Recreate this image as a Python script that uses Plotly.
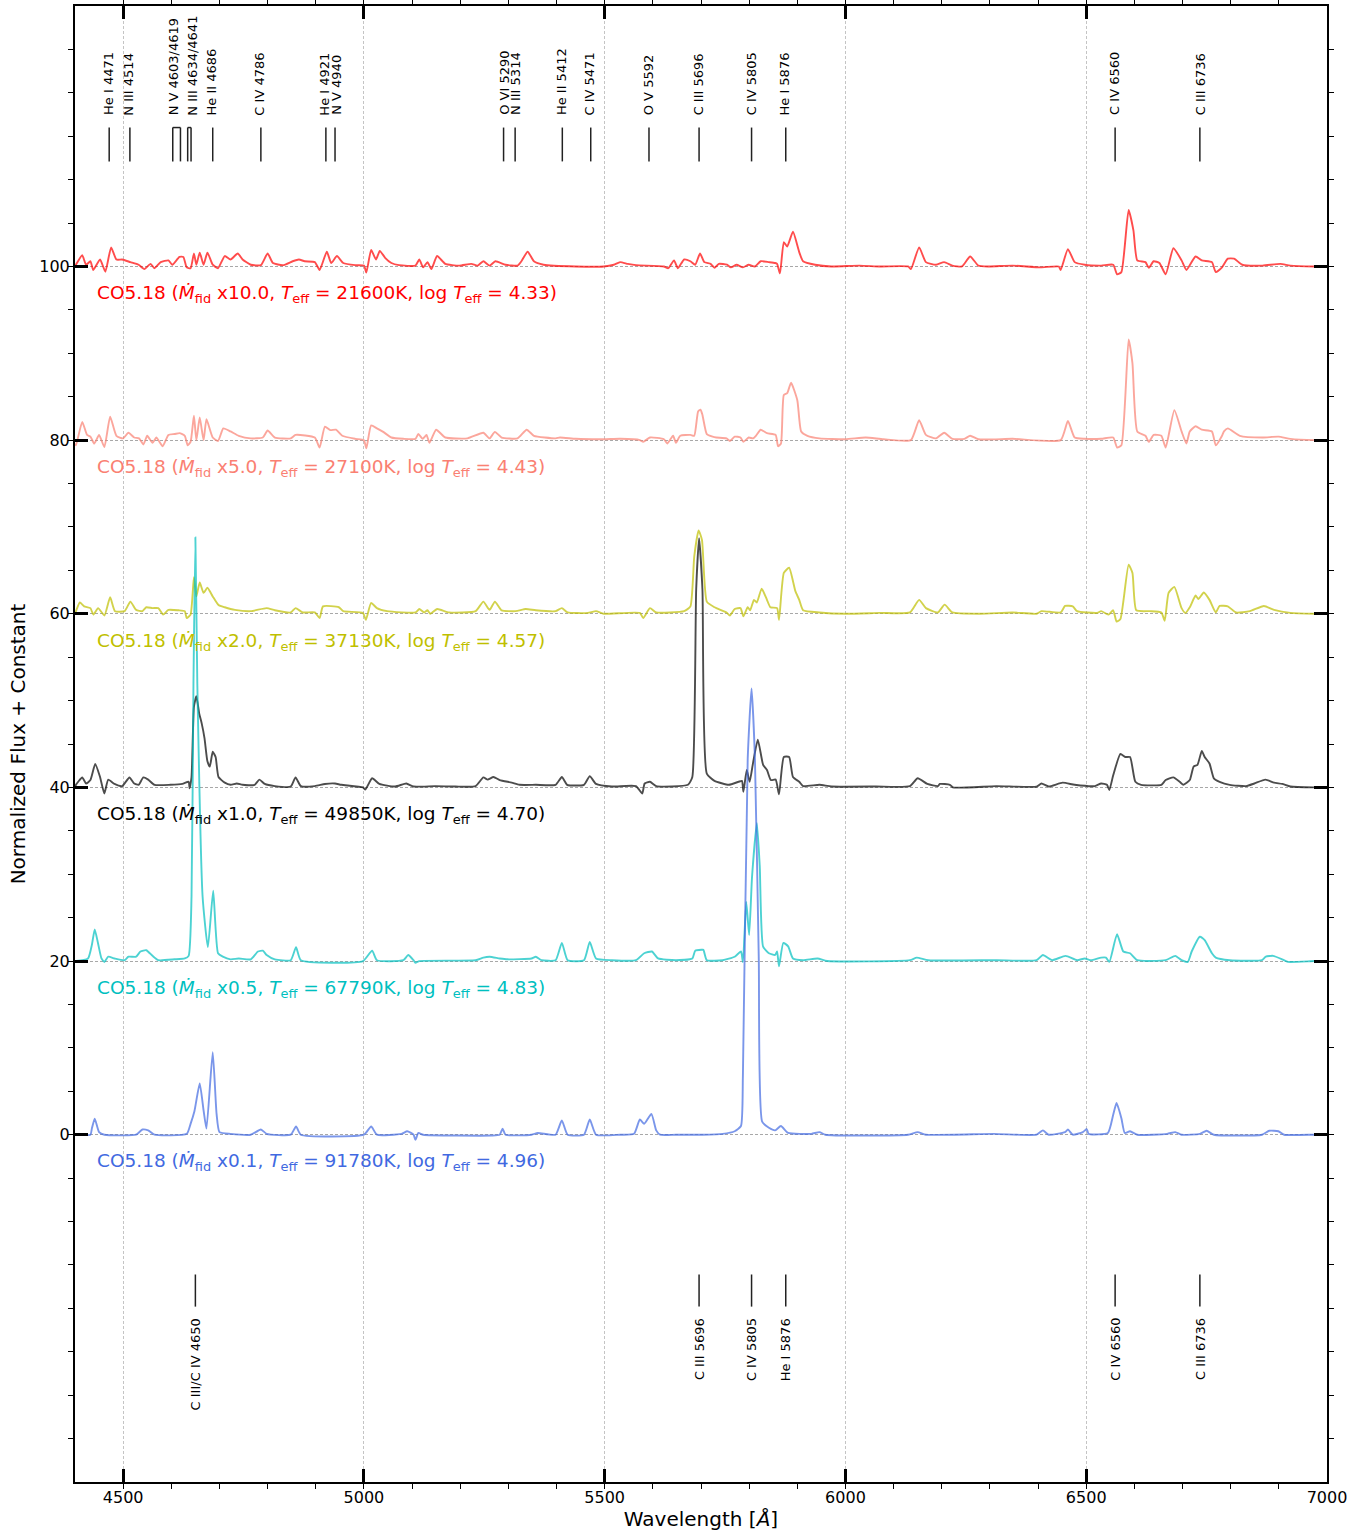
import plotly.graph_objects as go

# ---------------- data (wavelength [Å], normalized flux + constant) ----------------
offsets = [100, 80, 60, 40, 20, 0]
labels = [
    "CO5.18 (<i>Ṁ</i><sub>fid</sub> x10.0, <i>T</i><sub>eff</sub> = 21600K, log <i>T</i><sub>eff</sub> = 4.33)",
    "CO5.18 (<i>Ṁ</i><sub>fid</sub> x5.0, <i>T</i><sub>eff</sub> = 27100K, log <i>T</i><sub>eff</sub> = 4.43)",
    "CO5.18 (<i>Ṁ</i><sub>fid</sub> x2.0, <i>T</i><sub>eff</sub> = 37130K, log <i>T</i><sub>eff</sub> = 4.57)",
    "CO5.18 (<i>Ṁ</i><sub>fid</sub> x1.0, <i>T</i><sub>eff</sub> = 49850K, log <i>T</i><sub>eff</sub> = 4.70)",
    "CO5.18 (<i>Ṁ</i><sub>fid</sub> x0.5, <i>T</i><sub>eff</sub> = 67790K, log <i>T</i><sub>eff</sub> = 4.83)",
    "CO5.18 (<i>Ṁ</i><sub>fid</sub> x0.1, <i>T</i><sub>eff</sub> = 91780K, log <i>T</i><sub>eff</sub> = 4.96)",
]
line_colors = ["rgba(255,0,0,0.7)", "rgba(250,128,114,0.7)", "rgba(191,191,0,0.7)",
               "rgba(0,0,0,0.7)", "rgba(0,191,191,0.7)", "rgba(65,105,225,0.7)"]
text_colors = ["#ff0000", "#fa8072", "#bfbf00", "#000000", "#00bfbf", "#4169e1"]

spec_red = [
    (4400, 100.0), (4402, 100.2), (4415, 101.3), (4423, 100.2), (4432, 100.6), (4438, 99.6), (4452, 100.8),
    (4463, 99.4), (4475, 102.2), (4486, 100.8), (4498, 100.8), (4515, 100.5), (4532, 100.2), (4544, 99.7),
    (4557, 100.3), (4565, 99.8), (4578, 100.5), (4594, 100.7), (4602, 100.2), (4617, 101.1), (4625, 101.1),
    (4632, 99.9), (4640, 99.8), (4647, 101.5), (4652, 100.2), (4659, 101.6), (4667, 100.2), (4675, 101.6),
    (4686, 100.2), (4697, 99.8), (4711, 101.2), (4723, 100.8), (4738, 101.5), (4748, 100.8), (4765, 100.2),
    (4786, 100.15), (4800, 101.5), (4811, 100.4), (4832, 100.15), (4852, 100.6), (4865, 100.8), (4877, 100.6),
    (4898, 100.5), (4908, 99.6), (4923, 101.7), (4932, 100.4), (4944, 101.2), (4957, 100.4), (4982, 100.15),
    (5000, 100.1), (5005, 99.3), (5015, 101.9), (5025, 100.8), (5033, 101.8), (5044, 101.0), (5057, 100.4),
    (5073, 100.15), (5107, 100.1), (5115, 100.8), (5123, 99.9), (5132, 100.5), (5140, 99.7), (5152, 101.2),
    (5169, 100.3), (5198, 100.1), (5223, 100.3), (5236, 100.1), (5248, 100.6), (5261, 100.1), (5273, 100.6),
    (5294, 100.2), (5319, 100.1), (5327, 100.6), (5340, 101.7), (5353, 100.6), (5373, 100.2), (5440, 100.0),
    (5498, 100.0), (5519, 100.2), (5532, 100.5), (5548, 100.3), (5565, 100.15), (5623, 100.0), (5632, 99.8),
    (5644, 100.7), (5652, 99.8), (5665, 100.8), (5678, 100.6), (5688, 100.2), (5698, 101.5), (5707, 100.5),
    (5720, 100.3), (5728, 99.85), (5737, 100.3), (5754, 100.2), (5762, 99.9), (5774, 100.2), (5787, 99.9),
    (5799, 100.2), (5812, 100.0), (5824, 100.6), (5841, 100.5), (5854, 100.4), (5858, 100.3), (5864, 99.2),
    (5872, 102.8), (5879, 102.3), (5891, 104.0), (5904, 101.65), (5912, 100.6), (5937, 100.2), (5971, 100.0),
    (6029, 100.1), (6071, 100.0), (6130, 100.0), (6136, 99.7), (6153, 102.2), (6167, 100.5), (6188, 100.2),
    (6205, 100.5), (6222, 100.1), (6242, 100.0), (6259, 101.15), (6276, 100.1), (6297, 100.0), (6347, 100.1),
    (6405, 99.9), (6443, 100.0), (6447, 99.6), (6462, 102.0), (6476, 100.5), (6497, 100.2), (6531, 100.1),
    (6556, 100.2), (6564, 99.1), (6573, 99.35), (6588, 106.5), (6598, 104.15), (6606, 100.7), (6623, 100.5),
    (6630, 99.85), (6640, 100.6), (6652, 100.4), (6665, 99.1), (6681, 102.1), (6698, 100.7), (6708, 99.6),
    (6727, 101.15), (6740, 100.7), (6761, 100.5), (6769, 99.35), (6782, 99.9), (6794, 100.9), (6807, 100.9),
    (6824, 100.2), (6866, 100.1), (6903, 100.3), (6924, 100.1), (6974, 100.0), (7000, 100.0),
]

spec_salmon = [
    (4400, 79.6), (4402, 79.4), (4415, 82.1), (4425, 80.6), (4432, 80.4), (4440, 79.6), (4450, 80.6),
    (4461, 79.2), (4473, 82.7), (4486, 80.5), (4500, 80.2), (4511, 80.85), (4523, 80.3), (4533, 80.2),
    (4542, 79.5), (4550, 80.5), (4561, 79.7), (4569, 80.3), (4582, 79.3), (4594, 80.6), (4607, 80.7),
    (4617, 80.8), (4628, 80.5), (4634, 79.4), (4640, 79.8), (4647, 82.8), (4652, 80.0), (4659, 82.6),
    (4667, 80.0), (4673, 82.4), (4686, 80.3), (4697, 79.9), (4708, 81.35), (4723, 81.0), (4740, 80.5),
    (4765, 80.2), (4790, 80.3), (4800, 81.1), (4815, 80.3), (4848, 80.2), (4858, 80.6), (4898, 80.3),
    (4908, 79.15), (4919, 81.55), (4930, 81.15), (4942, 81.2), (4955, 80.5), (4982, 80.15), (5000, 80.0),
    (5005, 79.05), (5015, 81.7), (5027, 81.35), (5040, 80.95), (5057, 80.3), (5082, 80.15), (5107, 80.15),
    (5113, 80.7), (5122, 80.15), (5130, 80.6), (5136, 79.7), (5150, 81.2), (5169, 80.3), (5215, 80.2),
    (5248, 80.85), (5261, 80.2), (5272, 80.95), (5286, 80.3), (5319, 80.2), (5338, 81.2), (5353, 80.5),
    (5398, 80.2), (5407, 80.3), (5440, 80.15), (5498, 80.1), (5532, 80.15), (5573, 80.0), (5580, 79.8),
    (5594, 80.3), (5623, 80.1), (5630, 79.6), (5642, 80.5), (5648, 79.7), (5657, 80.5), (5678, 80.6),
    (5686, 80.5), (5694, 83.3), (5699, 83.5), (5703, 82.9), (5712, 80.7), (5724, 80.4), (5732, 80.3),
    (5753, 80.2), (5760, 79.9), (5770, 80.4), (5782, 80.3), (5788, 79.8), (5799, 80.3), (5808, 80.2),
    (5814, 80.5), (5824, 81.2), (5837, 80.8), (5855, 80.6), (5860, 79.3), (5866, 79.6), (5872, 85.2),
    (5879, 85.4), (5887, 86.6), (5900, 84.6), (5908, 81.0), (5921, 80.5), (5946, 80.2), (6000, 80.1),
    (6042, 80.3), (6079, 80.1), (6136, 80.0), (6153, 82.3), (6167, 80.6), (6188, 80.2), (6205, 80.85),
    (6222, 80.15), (6247, 80.15), (6259, 80.5), (6276, 80.1), (6347, 80.15), (6447, 80.0), (6462, 82.2),
    (6476, 80.3), (6497, 80.15), (6531, 80.15), (6556, 80.3), (6564, 79.15), (6573, 79.4), (6588, 91.6),
    (6596, 88.85), (6606, 81.0), (6623, 80.5), (6630, 79.8), (6640, 80.6), (6656, 80.5), (6665, 79.15),
    (6683, 83.45), (6698, 81.0), (6708, 79.6), (6715, 81.0), (6727, 81.6), (6740, 81.2), (6761, 81.0),
    (6769, 79.4), (6782, 80.5), (6786, 81.0), (6794, 81.35), (6819, 80.5), (6866, 80.3), (6899, 80.4),
    (6924, 80.15), (6974, 80.0), (7000, 80.0),
]

spec_yellow = [
    (4400, 60.0), (4402, 60.3), (4410, 61.3), (4419, 60.85), (4432, 60.65), (4438, 59.9), (4448, 60.65),
    (4461, 59.8), (4473, 61.9), (4483, 60.3), (4503, 60.3), (4515, 61.4), (4527, 60.45), (4540, 60.3),
    (4548, 60.75), (4561, 60.65), (4573, 60.65), (4583, 59.9), (4594, 60.45), (4615, 60.4), (4628, 60.3),
    (4632, 59.5), (4640, 59.9), (4647, 64.2), (4652, 62.0), (4659, 63.6), (4667, 62.4), (4675, 63.0),
    (4686, 62.0), (4698, 61.0), (4711, 60.75), (4732, 60.45), (4765, 60.3), (4798, 60.65), (4815, 60.4),
    (4848, 60.15), (4858, 60.65), (4873, 60.15), (4898, 60.15), (4908, 59.5), (4915, 60.85), (4948, 60.75),
    (4957, 60.3), (4998, 60.1), (5004, 59.3), (5015, 61.25), (5027, 60.65), (5048, 60.3), (5107, 60.15),
    (5115, 60.55), (5125, 60.15), (5132, 60.4), (5138, 60.0), (5152, 60.55), (5177, 60.15), (5232, 60.3),
    (5248, 61.4), (5261, 60.45), (5272, 61.4), (5286, 60.4), (5315, 60.3), (5336, 60.55), (5357, 60.4),
    (5398, 60.3), (5411, 60.65), (5423, 60.15), (5465, 60.1), (5482, 60.3), (5498, 60.0), (5573, 60.1),
    (5580, 59.5), (5594, 60.65), (5607, 60.15), (5665, 60.3), (5678, 60.85), (5686, 66.6), (5695, 69.6),
    (5702, 68.5), (5712, 61.4), (5728, 60.75), (5753, 60.15), (5760, 59.8), (5770, 60.55), (5782, 60.65),
    (5788, 59.7), (5797, 60.75), (5802, 60.4), (5810, 61.6), (5816, 61.3), (5826, 62.9), (5837, 61.6),
    (5844, 60.75), (5858, 60.65), (5862, 59.3), (5872, 64.7), (5883, 65.3), (5896, 62.6), (5904, 61.6),
    (5912, 60.4), (5946, 60.15), (6000, 60.0), (6071, 60.1), (6134, 60.15), (6153, 61.6), (6167, 60.65),
    (6192, 60.15), (6206, 61.05), (6222, 60.15), (6280, 60.0), (6347, 60.15), (6397, 60.0), (6407, 60.3),
    (6447, 60.15), (6456, 60.9), (6472, 60.85), (6481, 60.3), (6523, 60.1), (6531, 60.3), (6546, 59.9),
    (6556, 60.4), (6563, 59.1), (6571, 59.4), (6588, 65.65), (6596, 64.7), (6604, 60.4), (6631, 60.3),
    (6656, 60.15), (6663, 59.2), (6671, 62.4), (6683, 63.1), (6698, 60.65), (6706, 60.1), (6716, 60.85),
    (6727, 62.1), (6733, 61.7), (6744, 62.45), (6756, 61.6), (6769, 60.15), (6777, 60.9), (6794, 60.85),
    (6811, 60.15), (6840, 60.3), (6869, 60.9), (6890, 60.45), (6924, 60.1), (6974, 60.0), (7000, 60.0),
]

spec_black = [
    (4400, 40.0), (4402, 40.3), (4415, 41.15), (4423, 40.45), (4432, 40.85), (4442, 42.7), (4452, 41.2),
    (4461, 39.3), (4469, 40.9), (4482, 40.4), (4498, 40.15), (4513, 41.15), (4523, 40.45), (4532, 40.3),
    (4542, 41.15), (4552, 40.9), (4565, 40.3), (4598, 40.3), (4623, 40.4), (4636, 40.65), (4638, 39.9),
    (4642, 41.2), (4647, 49.3), (4652, 50.5), (4658, 48.5), (4663, 47.4), (4669, 45.65), (4675, 43.0),
    (4680, 42.4), (4686, 44.1), (4692, 43.5), (4698, 41.2), (4711, 40.55), (4723, 40.3), (4736, 40.45),
    (4748, 40.3), (4773, 40.3), (4783, 40.9), (4794, 40.4), (4815, 40.15), (4848, 40.1), (4858, 41.15),
    (4869, 40.15), (4898, 40.15), (4919, 40.4), (4940, 40.45), (4953, 40.3), (4998, 40.0), (5003, 39.75),
    (5017, 41.05), (5032, 40.4), (5065, 40.1), (5088, 40.45), (5103, 40.1), (5148, 40.15), (5190, 40.1),
    (5232, 40.15), (5248, 41.15), (5257, 40.9), (5269, 41.2), (5282, 40.85), (5307, 40.55), (5323, 40.3),
    (5357, 40.3), (5398, 40.3), (5411, 41.2), (5422, 40.3), (5457, 40.3), (5469, 41.3), (5482, 40.4),
    (5515, 40.1), (5565, 40.15), (5578, 39.3), (5583, 40.45), (5594, 40.65), (5607, 40.15), (5673, 40.3),
    (5682, 41.2), (5690, 62.8), (5696, 68.7), (5703, 62.8), (5712, 41.6), (5728, 40.75), (5758, 40.3),
    (5778, 40.65), (5785, 40.75), (5788, 39.5), (5795, 42.0), (5801, 40.65), (5808, 42.8), (5818, 45.5),
    (5829, 42.6), (5837, 42.0), (5845, 40.85), (5855, 40.9), (5862, 39.2), (5872, 43.5), (5883, 43.5),
    (5891, 41.2), (5904, 40.65), (5912, 40.15), (5946, 40.3), (5971, 40.1), (6063, 40.1), (6134, 40.15),
    (6150, 41.05), (6170, 40.4), (6192, 40.15), (6196, 40.4), (6217, 40.3), (6223, 40.0), (6313, 40.15),
    (6397, 40.1), (6407, 40.45), (6422, 40.1), (6451, 40.55), (6476, 40.3), (6518, 40.15), (6531, 40.45),
    (6543, 40.3), (6548, 39.7), (6556, 41.4), (6571, 43.85), (6581, 43.5), (6591, 43.5), (6602, 40.65),
    (6614, 40.3), (6656, 40.3), (6665, 40.85), (6681, 41.15), (6694, 40.65), (6702, 40.3), (6715, 40.85),
    (6723, 42.4), (6731, 42.6), (6740, 44.2), (6746, 43.5), (6756, 42.75), (6765, 41.05), (6777, 40.65),
    (6798, 40.3), (6832, 40.15), (6849, 40.45), (6872, 40.9), (6890, 40.55), (6907, 40.4), (6924, 40.1),
    (6974, 40.0), (7000, 40.0),
]

spec_cyan = [
    (4400, 20.0), (4402, 20.0), (4427, 20.3), (4435, 21.85), (4441, 23.65), (4448, 22.0), (4455, 20.3),
    (4461, 19.9), (4469, 20.5), (4482, 20.3), (4503, 20.1), (4511, 20.5), (4527, 20.5), (4536, 21.1),
    (4548, 21.25), (4561, 20.6), (4573, 20.1), (4607, 20.2), (4628, 20.3), (4636, 20.6), (4642, 27.4),
    (4646, 52.0), (4650, 68.8), (4654, 52.0), (4665, 27.4), (4676, 21.6), (4687, 28.1), (4697, 20.9),
    (4707, 20.5), (4723, 20.2), (4740, 20.3), (4765, 20.2), (4780, 21.1), (4790, 21.2), (4798, 20.7),
    (4815, 20.2), (4848, 20.1), (4859, 21.6), (4869, 20.1), (4998, 20.0), (5017, 21.2), (5027, 20.1),
    (5082, 20.1), (5092, 20.7), (5103, 20.1), (5107, 19.8), (5115, 20.0), (5232, 20.1), (5248, 20.4),
    (5261, 20.5), (5282, 20.3), (5298, 20.2), (5348, 20.3), (5357, 20.5), (5369, 20.1), (5398, 20.1),
    (5411, 22.1), (5423, 20.1), (5457, 20.1), (5469, 22.2), (5482, 20.3), (5515, 20.1), (5565, 20.1),
    (5582, 20.9), (5598, 21.1), (5611, 20.3), (5648, 20.1), (5682, 20.3), (5688, 21.2), (5702, 21.3),
    (5705, 21.3), (5712, 20.1), (5745, 20.1), (5770, 20.5), (5783, 21.1), (5787, 19.9), (5794, 26.8),
    (5800, 23.0), (5806, 29.7), (5816, 35.9), (5822, 30.9), (5829, 21.65), (5841, 20.9), (5854, 20.7),
    (5858, 21.1), (5862, 19.4), (5871, 22.1), (5881, 21.7), (5891, 20.3), (5912, 20.1), (5942, 20.3),
    (5962, 20.0), (6134, 20.1), (6148, 20.4), (6172, 20.1), (6313, 20.1), (6397, 20.1), (6410, 20.7),
    (6429, 20.1), (6457, 20.6), (6481, 20.1), (6497, 20.3), (6510, 20.1), (6531, 20.4), (6541, 20.4),
    (6548, 19.9), (6564, 23.1), (6577, 21.1), (6591, 20.9), (6606, 20.1), (6665, 20.1), (6685, 20.6),
    (6698, 20.1), (6711, 19.9), (6719, 21.1), (6736, 22.8), (6746, 22.4), (6761, 20.9), (6769, 20.4),
    (6798, 20.1), (6865, 20.1), (6873, 20.5), (6888, 20.6), (6907, 20.2), (6919, 19.9), (6974, 20.0),
    (7000, 20.0),
]

spec_blue = [
    (4400, 0.0), (4432, 0.0), (4435, 0.7), (4441, 1.85), (4450, 0.3), (4461, 0.0), (4527, 0.0),
    (4540, 0.6), (4552, 0.5), (4565, 0.0), (4632, 0.1), (4640, 1.25), (4648, 2.7), (4659, 5.9),
    (4667, 2.8), (4673, 0.7), (4686, 9.5), (4694, 2.4), (4700, 0.3), (4723, 0.1), (4765, 0.0),
    (4786, 0.6), (4798, 0.1), (4848, 0.0), (4859, 0.95), (4869, 0.0), (5000, 0.0), (5015, 0.95),
    (5027, 0.0), (5078, 0.1), (5090, 0.4), (5103, 0.0), (5107, -0.6), (5113, 0.2), (5123, 0.0),
    (5265, -0.1), (5282, 0.0), (5288, 0.7), (5294, 0.0), (5348, 0.0), (5361, 0.2), (5398, 0.0),
    (5411, 1.65), (5423, 0.0), (5457, 0.0), (5469, 1.75), (5482, 0.0), (5532, 0.0), (5561, 0.1),
    (5573, 1.75), (5582, 1.25), (5597, 2.4), (5607, 0.5), (5615, 0.0), (5648, 0.0), (5702, 0.0),
    (5745, 0.1), (5770, 0.4), (5783, 1.0), (5787, 6.7), (5797, 43.3), (5805, 51.4), (5812, 43.3),
    (5820, 20.2), (5827, 1.5), (5841, 0.8), (5854, 0.5), (5866, 1.0), (5881, 0.2), (5929, 0.1),
    (5946, 0.3), (5958, 0.0), (6130, 0.0), (6150, 0.3), (6167, 0.0), (6309, 0.1), (6397, 0.0),
    (6410, 0.5), (6422, 0.0), (6456, 0.3), (6462, 0.6), (6472, 0.0), (6493, 0.3), (6501, 0.65),
    (6505, 0.1), (6545, 0.2), (6556, 2.3), (6563, 3.65), (6573, 1.9), (6580, 0.2), (6591, 0.4),
    (6606, 0.0), (6668, 0.1), (6685, 0.3), (6698, 0.0), (6736, 0.1), (6750, 0.45), (6765, 0.0),
    (6865, 0.0), (6880, 0.45), (6899, 0.4), (6911, 0.0), (6974, 0.0), (7000, 0.0),
]

spectra = [spec_red, spec_salmon, spec_yellow, spec_black, spec_cyan, spec_blue]

# line identifications
top_line_names = ["He I 4471", "N III 4514", "N V 4603/4619", "N III 4634/4641", "He II 4686",
                  "C IV 4786", "He I 4921", "N V 4940", "O VI 5290", "N III 5314", "He II 5412",
                  "C IV 5471", "O V 5592", "C III 5696", "C IV 5805", "He I 5876", "C IV 6560",
                  "C III 6736"]
top_line_waves = [[4471], [4514], [4603, 4619], [4634, 4641], [4686], [4786], [4921], [4940],
                  [5290], [5314], [5412], [5471], [5592], [5696], [5805], [5876], [6560], [6736]]
bottom_line_names = ["C III/C IV 4650", "C III 5696", "C IV 5805", "He I 5876", "C IV 6560", "C III 6736"]
bottom_line_waves = [4650, 5696, 5805, 5876, 6560, 6736]

x_range = [4400, 7000]
y_range = [-40, 130]
y_ticks = [0, 20, 40, 60, 80, 100]
label_x = 4442

# small pixel nudges of the top label texts (style only)
top_text_shift = [0, -1, -3, 3, -1, -1, -1, 1.5, 1, 1, -1, -1, -1, -1, 0, -1, 0, 0]

# ---------------- figure ----------------
fig = go.Figure()
for pts, col in zip(spectra, line_colors):
    fig.add_trace(go.Scatter(x=[p[0] for p in pts], y=[p[1] for p in pts], mode="lines",
                             line=dict(color=col, width=1.9, shape="spline", smoothing=0.5),
                             showlegend=False, hoverinfo="skip"))

annotations = []
shapes = []
for off, lab, tc in zip(offsets, labels, text_colors):
    annotations.append(dict(x=label_x, y=off - 3.2, xref="x", yref="y", text=lab, showarrow=False,
                            xanchor="left", yanchor="middle",
                            font=dict(family="DejaVu Sans", size=18.5, color=tc)))

tick_color = "#222222"
top_lo, top_hi, top_text = 112.1, 116.0, 117.3
for name, waves, dx in zip(top_line_names, top_line_waves, top_text_shift):
    for w in waves:
        shapes.append(dict(type="line", xref="x", yref="y", x0=w, x1=w, y0=top_lo, y1=top_hi,
                           line=dict(color=tick_color, width=1.5)))
    if len(waves) > 1:
        shapes.append(dict(type="line", xref="x", yref="y", x0=waves[0], x1=waves[-1], y0=top_hi, y1=top_hi,
                           line=dict(color=tick_color, width=1.5)))
    annotations.append(dict(x=sum(waves) / len(waves), y=top_text, xref="x", yref="y", text=name,
                            showarrow=False, textangle=-90, xanchor="center", yanchor="bottom",
                            xshift=dx, borderpad=0,
                            font=dict(family="DejaVu Sans", size=13, color="black")))

bot_hi, bot_lo, bot_text = -16.1, -19.8, -21.0
for name, w in zip(bottom_line_names, bottom_line_waves):
    shapes.append(dict(type="line", xref="x", yref="y", x0=w, x1=w, y0=bot_lo, y1=bot_hi,
                       line=dict(color=tick_color, width=1.5)))
    annotations.append(dict(x=w, y=bot_text, xref="x", yref="y", text=name,
                            showarrow=False, textangle=-90, xanchor="center", yanchor="top",
                            borderpad=0, font=dict(family="DejaVu Sans", size=13, color="black")))

grid_dash = "3px,2px"
fig.update_layout(
    width=1370, height=1536,
    margin=dict(l=75, r=43, t=6, b=54, autoexpand=False),
    paper_bgcolor="white", plot_bgcolor="white",
    font=dict(family="DejaVu Sans", color="black"),
    annotations=annotations, shapes=shapes,
    xaxis=dict(
        range=x_range, tickmode="linear", tick0=4500, dtick=500, automargin=False,
        ticks="inside", ticklen=13, tickwidth=2.5, tickcolor="black",
        showline=True, linecolor="black", linewidth=2, mirror="ticks",
        showgrid=True, gridcolor="#c4c4c4", griddash=grid_dash, gridwidth=1,
        zeroline=False, tickfont=dict(size=16, family="DejaVu Sans"),
        minor=dict(tickmode="linear", tick0=4400, dtick=100, ticks="outside", ticklen=5,
                   tickwidth=1, tickcolor="black", showgrid=False),
        title=dict(text="Wavelength [<i>Å</i>]", font=dict(size=20, family="DejaVu Sans"), standoff=2),
    ),
    yaxis=dict(
        range=y_range, tickmode="array", tickvals=y_ticks, automargin=False,
        ticks="inside", ticklen=13, tickwidth=2.5, tickcolor="black",
        showline=True, linecolor="black", linewidth=2, mirror="ticks",
        showgrid=True, gridcolor="#a8a8a8", griddash=grid_dash, gridwidth=1,
        zeroline=False, tickfont=dict(size=16, family="DejaVu Sans"),
        minor=dict(tickmode="linear", tick0=0, dtick=5, ticks="outside", ticklen=5,
                   tickwidth=1, tickcolor="black", showgrid=False),
        title=dict(text="Normalized Flux + Constant", font=dict(size=20, family="DejaVu Sans"), standoff=8),
    ),
)

fig.write_html("out.html", config={"displayModeBar": False},
               post_script="document.body.style.margin='0px';document.body.style.overflow='hidden';")
